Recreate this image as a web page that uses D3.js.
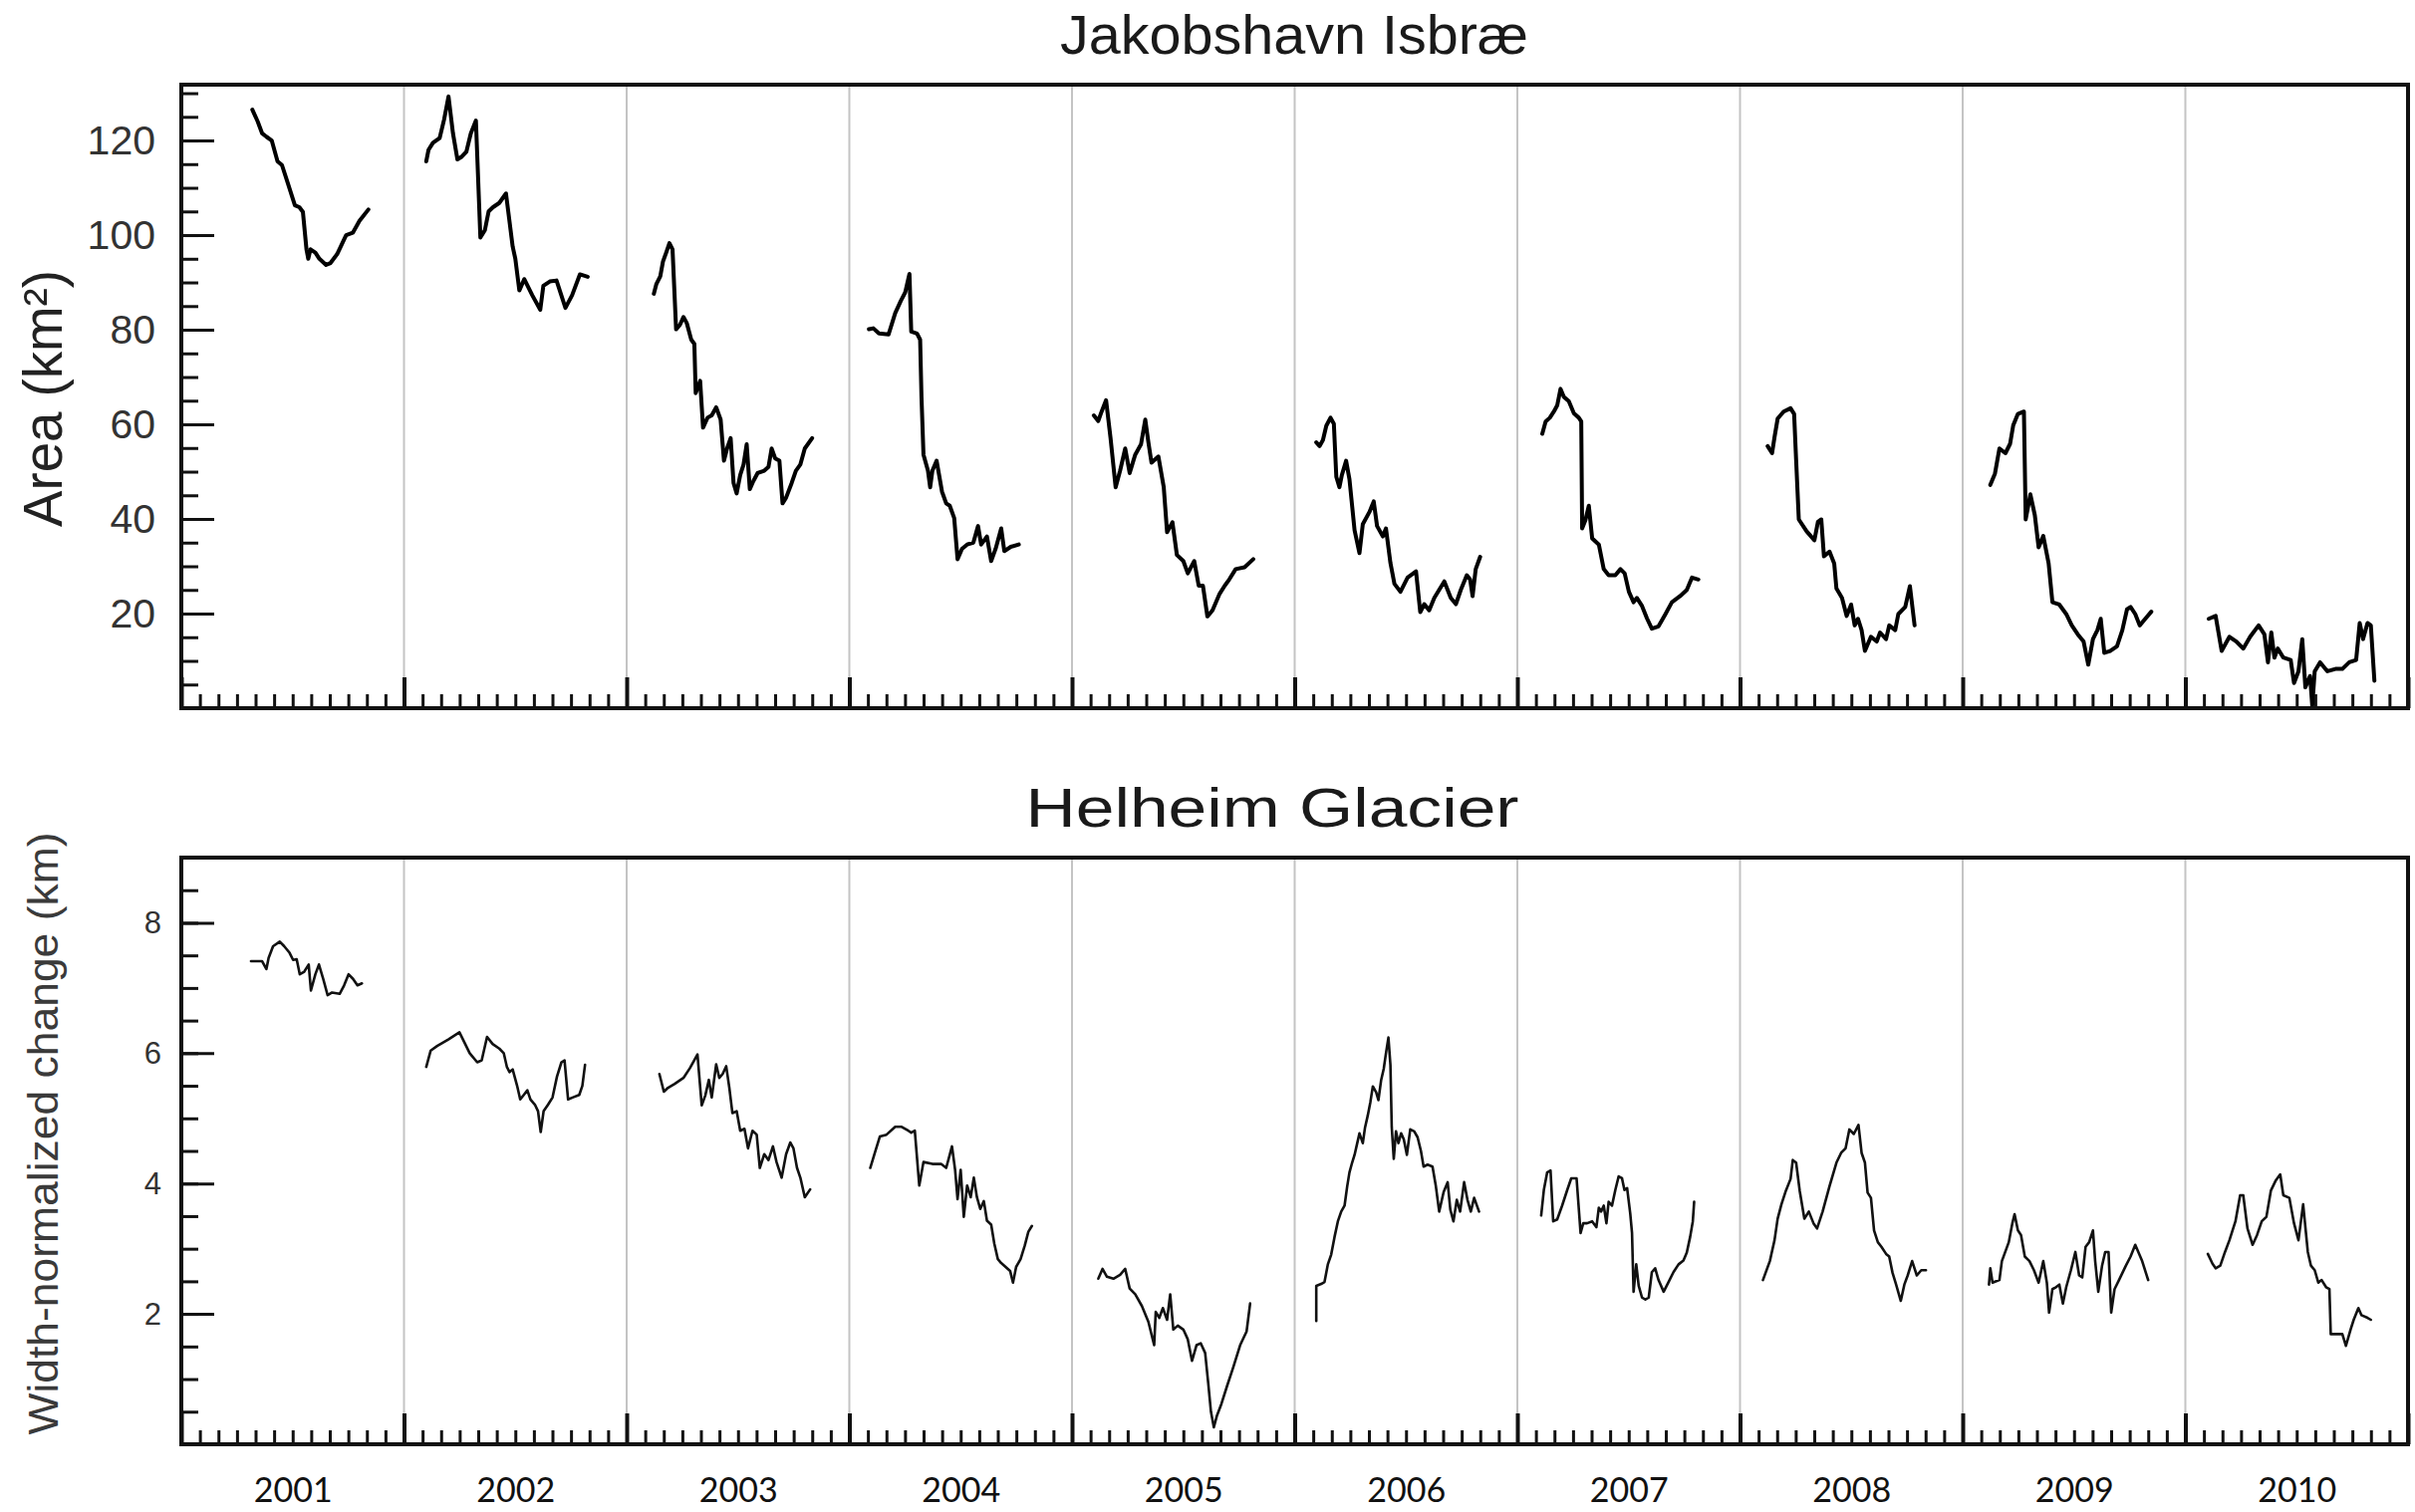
<!DOCTYPE html>
<html>
<head>
<meta charset="utf-8">
<script src="https://cdn.jsdelivr.net/npm/d3@7"></script>
<style>
	body { margin: 0; background: #fff; }
	svg { display: block; }
</style>
</head>
<body>
<div id="chart"></div>
<script>

var years = [2001, 2002, 2003, 2004, 2005, 2006, 2007, 2008, 2009, 2010]
var area_ticks = [20, 40, 60, 80, 100, 120]
var change_ticks = [2, 4, 6, 8]

// Jakobshavn Isbrae, one segment per year: [fraction of year, area km2]
var jakobshavn_area = [
	[[0.319,126.5],[0.343,124],[0.363,121.5],[0.382,120.8],[0.406,120],[0.432,115.6],[0.452,114.8],[0.48,110.7],[0.51,106.3],[0.53,105.9],[0.546,104.9],[0.562,97],[0.57,95],[0.58,97],[0.602,96.3],[0.62,95],[0.65,93.7],[0.67,94.1],[0.7,96],[0.74,100],[0.77,100.5],[0.8,103],[0.84,105.4]],
	[[0.1,115.6],[0.11,118],[0.13,119.5],[0.16,120.5],[0.18,124.4],[0.2,129.3],[0.22,121.5],[0.24,116],[0.26,116.6],[0.28,117.6],[0.3,121.5],[0.323,124.2],[0.343,99.5],[0.363,101],[0.38,105],[0.4,105.9],[0.428,106.8],[0.458,108.8],[0.488,97.6],[0.5,95],[0.518,88.3],[0.54,90.7],[0.576,87.3],[0.612,84.2],[0.626,89.3],[0.655,90.2],[0.685,90.4],[0.725,84.6],[0.755,87.3],[0.79,91.7],[0.825,91.2]],
	[[0.122,87.6],[0.133,89.6],[0.151,91.3],[0.163,94.4],[0.176,96.1],[0.192,98.3],[0.206,97],[0.222,80.1],[0.239,81],[0.255,82.7],[0.27,81.4],[0.29,77.9],[0.304,77],[0.31,66.6],[0.33,69.2],[0.343,59.3],[0.363,61.4],[0.382,61.9],[0.402,63.6],[0.422,61],[0.437,52.3],[0.451,54.9],[0.467,57.1],[0.48,47.6],[0.494,45.4],[0.51,49.3],[0.525,51.5],[0.539,55.8],[0.553,46.3],[0.569,48],[0.588,49.7],[0.618,50.2],[0.637,51],[0.651,54.9],[0.667,52.8],[0.686,52.3],[0.7,43.3],[0.716,44.5],[0.741,47.6],[0.76,50.2],[0.78,51.5],[0.8,54.9],[0.833,57.1]],
	[[0.088,80.1],[0.108,80.3],[0.133,79.2],[0.176,79],[0.206,83.5],[0.231,86.1],[0.251,87.9],[0.27,91.8],[0.278,79.6],[0.304,79.2],[0.318,77.9],[0.324,65.8],[0.333,53.6],[0.353,50.2],[0.363,46.7],[0.373,50.2],[0.392,52.3],[0.416,45.8],[0.435,43.3],[0.451,42.8],[0.471,40.2],[0.486,31.5],[0.506,33.7],[0.529,34.6],[0.557,35],[0.578,38.5],[0.592,34.6],[0.618,36.3],[0.637,31.1],[0.657,33.7],[0.682,38],[0.696,33.2],[0.725,34.1],[0.761,34.6]],
	[[0.098,61.9],[0.118,60.7],[0.133,62.7],[0.153,65.1],[0.173,57.1],[0.196,46.7],[0.216,50.2],[0.239,54.9],[0.259,49.7],[0.284,53.6],[0.31,55.8],[0.329,61],[0.343,56.2],[0.357,51.9],[0.388,53.2],[0.412,46.7],[0.427,37.2],[0.451,39.3],[0.471,32.4],[0.5,31.1],[0.52,28.5],[0.549,31.1],[0.569,25.9],[0.588,25.9],[0.608,19.4],[0.631,20.7],[0.663,24.2],[0.686,25.9],[0.706,27.2],[0.735,29.4],[0.775,29.8],[0.814,31.5]],
	[[0.097,56.2],[0.112,55.4],[0.127,56.7],[0.142,59.7],[0.161,61.4],[0.176,60.1],[0.187,48.9],[0.201,46.7],[0.212,49.3],[0.231,52.3],[0.246,48.4],[0.269,37.6],[0.291,32.8],[0.306,38.9],[0.336,41.5],[0.355,43.7],[0.37,38.5],[0.396,36.3],[0.41,38],[0.43,30.7],[0.448,26.3],[0.475,24.6],[0.507,27.6],[0.545,28.9],[0.564,20.3],[0.582,22],[0.604,20.7],[0.627,23.3],[0.672,26.8],[0.701,23.3],[0.724,22],[0.746,25],[0.773,28.1],[0.788,27.2],[0.799,23.7],[0.813,29.4],[0.833,32]],
	[[0.112,58],[0.127,60.6],[0.146,61.4],[0.164,62.7],[0.179,64],[0.194,67.5],[0.209,65.8],[0.231,64.9],[0.254,62.3],[0.276,61.4],[0.287,60.6],[0.291,38],[0.306,39.8],[0.321,42.8],[0.336,35.9],[0.366,34.6],[0.388,29.4],[0.41,28.1],[0.44,28.1],[0.463,29.4],[0.482,28.5],[0.501,24.6],[0.522,22.4],[0.537,23.3],[0.56,21.6],[0.582,19],[0.604,16.8],[0.634,17.3],[0.664,19.8],[0.694,22.4],[0.731,23.7],[0.761,25],[0.784,27.6],[0.813,27.2]],
	[[0.124,55.4],[0.144,53.9],[0.155,57.3],[0.169,61.2],[0.196,62.7],[0.227,63.4],[0.243,62.2],[0.252,52.5],[0.264,39.9],[0.299,37.4],[0.334,35.5],[0.35,39.4],[0.365,39.9],[0.377,32.1],[0.402,33.1],[0.423,30.6],[0.433,25.3],[0.458,23.3],[0.479,19.5],[0.499,21.9],[0.515,17.5],[0.53,18.9],[0.546,16.5],[0.561,12.1],[0.588,15.1],[0.614,14.1],[0.629,16],[0.656,14.6],[0.67,17.5],[0.697,16.5],[0.711,19.9],[0.742,21.4],[0.763,25.8],[0.784,17.5]],
	[[0.124,47.2],[0.145,49.6],[0.165,54.9],[0.192,53.9],[0.213,55.9],[0.227,59.8],[0.248,62.2],[0.275,62.7],[0.283,39.9],[0.304,45.2],[0.324,40.8],[0.341,34],[0.362,36.4],[0.386,30.6],[0.403,22.4],[0.434,21.9],[0.465,19.9],[0.49,17.5],[0.517,15.6],[0.543,14.1],[0.564,9.2],[0.585,14.6],[0.605,16.5],[0.62,18.9],[0.636,11.7],[0.662,12.1],[0.693,13.1],[0.717,16.5],[0.738,20.9],[0.754,21.4],[0.775,19.9],[0.795,17.5],[0.82,18.9],[0.847,20.4]],
	[[0.105,18.9],[0.136,19.5],[0.163,12.1],[0.198,15.1],[0.229,14.1],[0.26,12.6],[0.291,15.1],[0.329,17.5],[0.355,15.6],[0.371,9.7],[0.386,16],[0.4,10.7],[0.415,12.6],[0.44,10.7],[0.473,10.2],[0.488,5.3],[0.508,7.8],[0.525,14.6],[0.539,4.4],[0.56,6.8],[0.57,0.5],[0.581,7.8],[0.605,9.7],[0.638,7.8],[0.674,8.3],[0.705,8.3],[0.736,9.7],[0.767,10.2],[0.783,18],[0.798,14.6],[0.818,18],[0.833,17.5],[0.849,5.8]]
]

// Helheim Glacier, one segment per year: [fraction of year, width-normalized change km]
var helheim_change = [
	[[0.313,7.41],[0.363,7.41],[0.382,7.29],[0.392,7.46],[0.412,7.64],[0.442,7.71],[0.462,7.64],[0.486,7.54],[0.502,7.43],[0.518,7.44],[0.532,7.21],[0.552,7.25],[0.572,7.36],[0.582,6.96],[0.602,7.21],[0.618,7.36],[0.637,7.14],[0.657,6.89],[0.677,6.93],[0.711,6.91],[0.731,7.04],[0.751,7.21],[0.771,7.14],[0.791,7.04],[0.811,7.07]],
	[[0.1,5.79],[0.12,6.04],[0.149,6.11],[0.199,6.21],[0.249,6.32],[0.295,6],[0.329,5.86],[0.349,5.89],[0.373,6.25],[0.398,6.14],[0.428,6.07],[0.448,6],[0.462,5.79],[0.474,5.71],[0.488,5.75],[0.508,5.5],[0.522,5.29],[0.538,5.36],[0.554,5.43],[0.568,5.29],[0.588,5.21],[0.602,5.11],[0.614,4.79],[0.627,5.11],[0.647,5.21],[0.667,5.32],[0.687,5.64],[0.707,5.86],[0.721,5.89],[0.737,5.29],[0.757,5.32],[0.787,5.36],[0.801,5.5],[0.813,5.82]],
	[[0.147,5.68],[0.167,5.41],[0.186,5.47],[0.216,5.53],[0.255,5.62],[0.284,5.77],[0.318,5.98],[0.337,5.2],[0.353,5.35],[0.369,5.59],[0.382,5.32],[0.402,5.83],[0.416,5.62],[0.431,5.68],[0.447,5.8],[0.461,5.47],[0.475,5.08],[0.494,5.11],[0.51,4.81],[0.529,4.84],[0.545,4.54],[0.565,4.81],[0.584,4.75],[0.598,4.24],[0.618,4.45],[0.637,4.36],[0.657,4.57],[0.673,4.33],[0.696,4.09],[0.716,4.45],[0.735,4.63],[0.749,4.54],[0.765,4.24],[0.78,4.09],[0.8,3.79],[0.824,3.91]],
	[[0.094,4.24],[0.118,4.51],[0.137,4.72],[0.167,4.75],[0.206,4.87],[0.235,4.87],[0.265,4.81],[0.278,4.78],[0.294,4.81],[0.314,3.97],[0.333,4.33],[0.373,4.3],[0.412,4.3],[0.435,4.24],[0.447,4.39],[0.461,4.57],[0.475,4.21],[0.486,3.76],[0.5,4.21],[0.514,3.49],[0.529,3.97],[0.545,3.79],[0.559,4.09],[0.573,3.79],[0.588,3.61],[0.604,3.73],[0.618,3.43],[0.637,3.37],[0.651,3.08],[0.667,2.84],[0.682,2.78],[0.702,2.72],[0.722,2.66],[0.735,2.48],[0.749,2.72],[0.769,2.84],[0.788,3.05],[0.804,3.26],[0.82,3.35]],
	[[0.118,2.54],[0.137,2.69],[0.157,2.57],[0.186,2.54],[0.216,2.6],[0.239,2.69],[0.259,2.39],[0.284,2.3],[0.314,2.12],[0.343,1.88],[0.369,1.52],[0.376,2.03],[0.392,1.94],[0.408,2.09],[0.427,1.91],[0.441,2.3],[0.455,1.76],[0.475,1.82],[0.5,1.76],[0.52,1.61],[0.539,1.28],[0.559,1.52],[0.578,1.55],[0.598,1.4],[0.612,0.93],[0.624,0.5],[0.637,0.26],[0.651,0.44],[0.671,0.62],[0.696,0.89],[0.725,1.19],[0.755,1.52],[0.784,1.73],[0.8,2.16]],
	[[0.097,1.89],[0.097,2.43],[0.119,2.46],[0.134,2.49],[0.149,2.76],[0.164,2.91],[0.179,3.18],[0.194,3.42],[0.209,3.57],[0.224,3.66],[0.236,3.96],[0.246,4.17],[0.258,4.32],[0.269,4.44],[0.281,4.62],[0.291,4.77],[0.306,4.62],[0.316,4.86],[0.328,5.04],[0.34,5.25],[0.351,5.49],[0.366,5.4],[0.376,5.28],[0.388,5.58],[0.4,5.76],[0.41,6],[0.421,6.24],[0.43,5.82],[0.436,4.86],[0.445,4.38],[0.455,4.8],[0.466,4.62],[0.478,4.77],[0.49,4.68],[0.504,4.44],[0.519,4.83],[0.537,4.8],[0.552,4.71],[0.567,4.5],[0.579,4.26],[0.597,4.29],[0.619,4.26],[0.634,3.96],[0.649,3.57],[0.669,3.87],[0.687,4.02],[0.699,3.6],[0.713,3.42],[0.728,3.75],[0.743,3.57],[0.761,4.02],[0.776,3.75],[0.791,3.57],[0.806,3.78],[0.828,3.57]],
	[[0.107,3.51],[0.119,3.9],[0.134,4.17],[0.149,4.2],[0.161,3.42],[0.179,3.45],[0.201,3.66],[0.224,3.9],[0.242,4.08],[0.266,4.08],[0.284,3.24],[0.296,3.39],[0.313,3.39],[0.336,3.42],[0.355,3.33],[0.366,3.63],[0.376,3.57],[0.388,3.66],[0.4,3.39],[0.41,3.72],[0.425,3.66],[0.44,3.9],[0.455,4.11],[0.47,4.08],[0.481,3.9],[0.493,3.93],[0.507,3.54],[0.515,3.24],[0.522,2.34],[0.534,2.76],[0.545,2.43],[0.56,2.25],[0.575,2.22],[0.59,2.25],[0.604,2.64],[0.619,2.7],[0.634,2.52],[0.657,2.34],[0.679,2.49],[0.701,2.64],[0.724,2.76],[0.746,2.82],[0.761,2.94],[0.776,3.18],[0.788,3.42],[0.794,3.72]],
	[[0.103,2.52],[0.134,2.81],[0.155,3.13],[0.169,3.46],[0.186,3.68],[0.206,3.89],[0.227,4.07],[0.237,4.36],[0.252,4.32],[0.268,3.89],[0.289,3.46],[0.309,3.57],[0.33,3.39],[0.346,3.31],[0.371,3.57],[0.402,3.96],[0.433,4.32],[0.454,4.47],[0.474,4.54],[0.491,4.83],[0.511,4.76],[0.532,4.9],[0.546,4.47],[0.561,4.32],[0.573,3.86],[0.588,3.78],[0.602,3.28],[0.619,3.1],[0.635,3.03],[0.656,2.92],[0.67,2.88],[0.685,2.63],[0.701,2.45],[0.722,2.2],[0.738,2.45],[0.753,2.59],[0.773,2.81],[0.794,2.59],[0.814,2.67],[0.835,2.67]],
	[[0.118,2.45],[0.124,2.7],[0.134,2.48],[0.165,2.52],[0.176,2.81],[0.207,3.1],[0.223,3.39],[0.233,3.53],[0.248,3.28],[0.262,3.21],[0.279,2.88],[0.3,2.81],[0.32,2.67],[0.341,2.48],[0.362,2.81],[0.378,2.48],[0.388,2.02],[0.403,2.38],[0.419,2.41],[0.434,2.45],[0.45,2.16],[0.465,2.41],[0.486,2.67],[0.506,2.95],[0.523,2.59],[0.537,2.56],[0.552,3.03],[0.568,3.1],[0.585,3.28],[0.595,2.81],[0.609,2.34],[0.626,2.74],[0.64,2.95],[0.655,2.95],[0.667,2.02],[0.682,2.38],[0.702,2.52],[0.733,2.74],[0.754,2.88],[0.775,3.06],[0.806,2.81],[0.833,2.52]],
	[[0.101,2.92],[0.122,2.77],[0.136,2.7],[0.157,2.74],[0.178,2.95],[0.198,3.13],[0.225,3.42],[0.246,3.82],[0.26,3.82],[0.279,3.31],[0.302,3.06],[0.322,3.21],[0.343,3.42],[0.364,3.49],[0.384,3.89],[0.405,4.04],[0.426,4.14],[0.44,3.82],[0.467,3.78],[0.488,3.39],[0.508,3.13],[0.529,3.68],[0.55,2.95],[0.564,2.74],[0.581,2.67],[0.597,2.48],[0.612,2.52],[0.632,2.41],[0.647,2.38],[0.653,1.69],[0.684,1.69],[0.705,1.69],[0.721,1.51],[0.742,1.76],[0.756,1.91],[0.777,2.09],[0.791,1.98],[0.818,1.94],[0.833,1.91]]
]

var Chart = ((d3) => {

	var width = 2424,
		height = 1518,
		left = 182,
		right = 2417

	var svg = d3.select('#chart')
		.append('svg')
		.attr('width', width)
		.attr('height', height)

	var x = d3.scaleLinear()
		.domain([years[0], years[years.length - 1] + 1])
		.range([left, right])

	var months = d3.range(0, years.length * 12 + 1).map(i => years[0] + i / 12)
	var year_starts = d3.range(0, years.length + 1).map(i => years[0] + i)

	draw_panel = opts => {

		var y = d3.scaleLinear()
			.domain(opts.domain)
			.range([opts.bottom, opts.top])

		var g = svg.append('g')

		// gray year dividers
		g.selectAll('line.divider')
			.data(year_starts.slice(1, -1))
			.join('line')
				.attr('class', 'divider')
				.attr('x1', d => x(d))
				.attr('x2', d => x(d))
				.attr('y1', opts.top)
				.attr('y2', opts.bottom)
				.attr('stroke', '#c4c4c4')
				.attr('stroke-width', 2)

		var line = d3.line()
			.x(d => x(d[0]))
			.y(d => y(d[1]))

		g.selectAll('path.series')
			.data(opts.data.map((seg, i) => seg.map(p => [years[i] + p[0], p[1]])))
			.join('path')
				.attr('class', 'series')
				.attr('d', line)
				.attr('fill', 'none')
				.attr('stroke', opts.color)
				.attr('stroke-width', opts.line_width)
				.attr('stroke-linejoin', 'round')
				.attr('stroke-linecap', 'round')

		// y minor ticks
		g.append('g')
			.attr('transform', 'translate(' + left + ',0)')
			.call(d3.axisLeft(y).tickValues(opts.minor).tickSize(-17).tickFormat(''))
			.call(a => a.select('.domain').remove())
			.call(a => a.selectAll('line').attr('stroke', '#111').attr('stroke-width', 3))

		// y major ticks + labels
		g.append('g')
			.attr('transform', 'translate(' + left + ',0)')
			.call(d3.axisLeft(y).tickValues(opts.major).tickSize(-33).tickPadding(opts.label_pad))
			.call(a => a.select('.domain').remove())
			.call(a => a.selectAll('line').attr('stroke', '#111').attr('stroke-width', 3))
			.call(a => a.selectAll('text')
				.attr('font-family', 'Liberation Sans, Arial, sans-serif')
				.attr('font-size', opts.label_size)
				.attr('fill', '#333'))

		// month ticks
		g.append('g')
			.attr('transform', 'translate(0,' + opts.bottom + ')')
			.call(d3.axisBottom(x).tickValues(months).tickSize(-14).tickFormat(''))
			.call(a => a.select('.domain').remove())
			.call(a => a.selectAll('line').attr('stroke', '#111').attr('stroke-width', 3))

		// year ticks
		g.append('g')
			.attr('transform', 'translate(0,' + opts.bottom + ')')
			.call(d3.axisBottom(x).tickValues(year_starts).tickSize(-31).tickFormat(''))
			.call(a => a.select('.domain').remove())
			.call(a => a.selectAll('line').attr('stroke', '#111').attr('stroke-width', 4))

		// frame
		g.append('rect')
			.attr('x', left)
			.attr('y', opts.top)
			.attr('width', right - left)
			.attr('height', opts.bottom - opts.top)
			.attr('fill', 'none')
			.attr('stroke', '#111')
			.attr('stroke-width', 4)

		// title
		g.append('text')
			.attr('x', opts.title_x)
			.attr('y', opts.title_y)
			.attr('text-anchor', 'middle')
			.attr('font-family', 'Liberation Sans Narrow, Liberation Sans, Arial, sans-serif')
			.attr('font-size', 56)
			.attr('fill', '#1a1a1a')
			.attr('textLength', opts.title_len)
			.attr('lengthAdjust', 'spacingAndGlyphs')
			.text(opts.title)

		// y label
		g.append('text')
			.attr('transform', 'translate(' + opts.ylabel_x + ',' + opts.ylabel_y + ') rotate(-90)')
			.attr('text-anchor', 'middle')
			.attr('font-family', opts.ylabel_font)
			.attr('font-size', opts.ylabel_size)
			.attr('fill', opts.ylabel_color)
			.attr('textLength', opts.ylabel_len)
			.attr('lengthAdjust', 'spacingAndGlyphs')
			.text(opts.ylabel)

		return y

	}

	draw_panel({
		top: 85,
		bottom: 711,
		domain: [0, 131.8],
		data: jakobshavn_area,
		color: '#000',
		line_width: 4,
		minor: d3.range(5, 135, 5),
		major: area_ticks,
		label_pad: 26,
		label_size: 41,
		title: 'Jakobshavn Isbræ',
		title_x: 1299,
		title_y: 54,
		title_len: 470,
		ylabel: 'Area (km²)',
		ylabel_x: 62,
		ylabel_y: 400,
		ylabel_size: 55,
		ylabel_len: 258,
		ylabel_font: 'Liberation Sans, Arial, sans-serif',
		ylabel_color: '#222'
	})

	draw_panel({
		top: 861,
		bottom: 1450,
		domain: [0, 9],
		data: helheim_change,
		color: '#111',
		line_width: 2.6,
		minor: d3.range(0.5, 9, 0.5),
		major: change_ticks,
		label_pad: 20,
		label_size: 31,
		title: 'Helheim Glacier',
		title_x: 1277,
		title_y: 830,
		title_len: 495,
		ylabel: 'Width-normalized change (km)',
		ylabel_x: 58,
		ylabel_y: 1138,
		ylabel_size: 42,
		ylabel_len: 605,
		ylabel_font: 'Liberation Sans Narrow, Liberation Sans, Arial, sans-serif',
		ylabel_color: '#3a3a3a'
	})

	// year labels under the lower panel
	svg.append('g')
		.attr('transform', 'translate(0,1450)')
		.call(d3.axisBottom(x).tickValues(years.map(d => d + 0.5)).tickSize(0).tickPadding(34).tickFormat(d => Math.floor(d)))
		.call(a => a.select('.domain').remove())
		.call(a => a.selectAll('text')
			.attr('font-family', 'Lato, Open Sans, sans-serif')
			.attr('font-size', 34)
			.attr('fill', '#111'))

	return { svg: svg }

})(d3)

</script>
</body>
</html>
